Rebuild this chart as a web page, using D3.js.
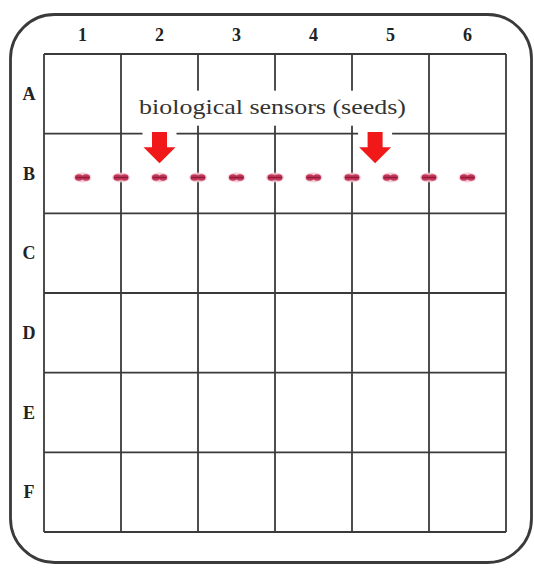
<!DOCTYPE html>
<html>
<head>
<meta charset="utf-8">
<script src="https://cdn.jsdelivr.net/npm/d3@7"></script>
<style>
  html, body { margin: 0; padding: 0; background: #fff; }
  svg { display: block; }
</style>
</head>
<body>
<svg id="chart" width="534" height="568"></svg>
<script>
// ---- data ----
const columns = ["1", "2", "3", "4", "5", "6"];
const rows = ["A", "B", "C", "D", "E", "F"];
// seed positions along row B, in column units (1 = centre of column 1)
const seedColumns = [1, 1.5, 2, 2.5, 3, 3.5, 4, 4.5, 5, 5.5, 6];
const seedRow = "B";
// arrows pointing to seeds, in column units
const arrowColumns = [2, 4.8];
const annotation = "biological sensors (seeds)";

// ---- layout ----
const svg = d3.select("#chart");
const grid = { left: 44, right: 506, top: 54, bottom: 532 };

const x = d3.scaleLinear().domain([0, columns.length]).range([grid.left, grid.right]);
const y = d3.scaleLinear().domain([0, rows.length]).range([grid.top, grid.bottom]);
const colCenter = c => x(c - 0.5);           // column units (1-based) -> px
const rowBand = d3.scaleBand().domain(rows).range([grid.top, grid.bottom]);
const serif = "'Liberation Serif', 'Times New Roman', serif";

// outer rounded frame
svg.append("rect")
  .attr("x", 10.5).attr("y", 14.5)
  .attr("width", 521).attr("height", 548)
  .attr("rx", 44).attr("ry", 44)
  .attr("fill", "none")
  .attr("stroke", "#3a3a3a")
  .attr("stroke-width", 2.8);

// grid lines
const gridG = svg.append("g").attr("stroke", "#3a3a3a").attr("stroke-width", 1.8);
gridG.selectAll("line.v")
  .data(d3.range(columns.length + 1))
  .join("line")
  .attr("class", "v")
  .attr("x1", d => x(d)).attr("x2", d => x(d))
  .attr("y1", grid.top).attr("y2", grid.bottom);
gridG.selectAll("line.h")
  .data(d3.range(rows.length + 1))
  .join("line")
  .attr("class", "h")
  .attr("x1", grid.left).attr("x2", grid.right)
  .attr("y1", d => y(d)).attr("y2", d => y(d));

// column labels
svg.append("g").selectAll("text")
  .data(columns)
  .join("text")
  .attr("x", (d, i) => x(i + 0.5))
  .attr("y", 41)
  .attr("text-anchor", "middle")
  .attr("font-family", serif)
  .attr("font-weight", "bold")
  .attr("font-size", 18)
  .attr("fill", "#222")
  .text(d => d);

// row labels
svg.append("g").selectAll("text")
  .data(rows)
  .join("text")
  .attr("x", 29)
  .attr("y", d => rowBand(d) + rowBand.bandwidth() / 2 + 6)
  .attr("text-anchor", "middle")
  .attr("font-family", serif)
  .attr("font-weight", "bold")
  .attr("font-size", 18)
  .attr("fill", "#222")
  .text(d => d);

// annotation label with white backing
const labelY = y(0.75);
svg.append("rect")
  .attr("x", 135).attr("width", 275)
  .attr("y", y(0.46)).attr("height", y(0.9) - y(0.46))
  .attr("fill", "#fff");
svg.append("text")
  .attr("x", 139)
  .attr("y", labelY)
  .attr("font-family", serif)
  .attr("font-size", 22)
  .attr("fill", "#333")
  .attr("textLength", 267)
  .attr("lengthAdjust", "spacingAndGlyphs")
  .text(annotation);

// arrows (white gap in grid line behind each)
const arrowG = svg.append("g");
arrowColumns.forEach(c => {
  const cx = colCenter(c);
  const top = y(0.98), headBase = y(1.17), tip = y(1.37);
  arrowG.append("rect")
    .attr("x", cx - 17).attr("width", 34)
    .attr("y", top - 3).attr("height", 6)
    .attr("fill", "#fff");
  arrowG.append("path")
    .attr("d", `M${cx - 7.5},${top} L${cx + 7.5},${top} L${cx + 7.5},${headBase} L${cx + 16},${headBase} L${cx},${tip} L${cx - 16},${headBase} L${cx - 7.5},${headBase} Z`)
    .attr("fill", "#f01818");
});

// seeds
const seedY = rowBand(seedRow) + rowBand.bandwidth() / 2 + 4;
const seedG = svg.append("g");
const seeds = seedG.selectAll("g")
  .data(seedColumns)
  .join("g")
  .attr("transform", d => `translate(${colCenter(d)},${seedY})`);
seeds.append("ellipse")
  .attr("rx", 9).attr("ry", 5)
  .attr("fill", "#f2c4cf")
  .attr("opacity", 0.8);
seeds.append("ellipse")
  .attr("cx", -3.5).attr("rx", 4).attr("ry", 3.3)
  .attr("fill", "#c4365a");
seeds.append("ellipse")
  .attr("cx", 3.5).attr("rx", 4).attr("ry", 3.3)
  .attr("fill", "#c4365a");
seeds.append("line")
  .attr("x1", -7).attr("x2", 7)
  .attr("stroke", "#8e1a3a").attr("stroke-width", 1.4);
</script>
</body>
</html>
